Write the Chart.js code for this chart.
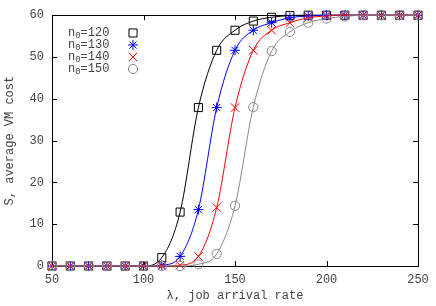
<!DOCTYPE html>
<html>
<head>
<meta charset="utf-8">
<script src="https://cdn.jsdelivr.net/npm/chart.js@4"></script>
<style>
html, body { margin: 0; padding: 0; background: #fff; }
</style>
</head>
<body>
<canvas id="c" width="436" height="306"></canvas>
<script>
var lambdas = [50, 60, 70, 80, 90, 100, 110, 120, 130, 140, 150, 160, 170, 180, 190, 200, 210, 220, 230, 240, 250];
var s120 = [0, 0, 0, 0, 0, 0, 2.0, 12.9, 37.9, 51.6, 56.4, 58.6, 59.5, 59.9, 60, 60, 60, 60, 60, 60, 60];
var s130 = [0, 0, 0, 0, 0, 0, 0.2, 2.3, 13.5, 37.9, 51.6, 56.4, 58.2, 59.4, 59.8, 60, 60, 60, 60, 60, 60];
var s140 = [0, 0, 0, 0, 0, 0, 0, 0.2, 2.3, 14.0, 37.9, 51.6, 56.4, 58.2, 59.4, 59.8, 60, 60, 60, 60, 60];
var s150 = [0, 0, 0, 0, 0, 0, 0, 0, 0.4, 2.9, 14.4, 38.0, 51.4, 56.0, 58.2, 59.2, 59.7, 60, 60, 60, 60];
var seriesNames = ['120', '130', '140', '150'];
var xTicks = [50, 100, 150, 200, 250];
var yTicks = [0, 10, 20, 30, 40, 50, 60];

var FONT = '"Liberation Mono", "DejaVu Sans Mono", monospace';
var TEXT = '#444';
var colors = ['#000000', '#0000ff', '#ff0000', '#888888'];
var styles = ['rect', 'star', 'crossRot', 'circle'];
var radii = [5.7, 5, 6, 4.6];

function pts(arr) {
  return arr.map(function (v, i) { return { x: lambdas[i], y: v }; });
}

var all = [s120, s130, s140, s150];
var datasets = all.map(function (arr, i) {
  return {
    label: 'n0=' + seriesNames[i],
    data: pts(arr),
    borderColor: colors[i],
    pointBorderColor: colors[i],
    backgroundColor: 'rgba(0,0,0,0)',
    pointBackgroundColor: 'rgba(0,0,0,0)',
    borderWidth: 1,
    pointBorderWidth: 1,
    pointStyle: styles[i],
    pointRadius: radii[i],
    cubicInterpolationMode: 'monotone',
    clip: false,
    order: 4 - i
  };
});

// legend markers, drawn the same way as the chart's point styles
function drawMarker(ctx, style, r, x, y) {
  ctx.beginPath();
  if (style === 'rect') {
    var s = r * Math.SQRT1_2;
    ctx.rect(x - s, y - s, 2 * s, 2 * s);
  } else if (style === 'circle') {
    ctx.arc(x, y, r, 0, Math.PI * 2);
  } else if (style === 'crossRot') {
    var d = r * Math.SQRT1_2;
    ctx.moveTo(x - d, y - d); ctx.lineTo(x + d, y + d);
    ctx.moveTo(x - d, y + d); ctx.lineTo(x + d, y - d);
  } else if (style === 'star') {
    var d2 = r * Math.SQRT1_2;
    ctx.moveTo(x - r, y); ctx.lineTo(x + r, y);
    ctx.moveTo(x, y - r); ctx.lineTo(x, y + r);
    ctx.moveTo(x - d2, y - d2); ctx.lineTo(x + d2, y + d2);
    ctx.moveTo(x - d2, y + d2); ctx.lineTo(x + d2, y - d2);
  }
  ctx.stroke();
}

var framePlugin = {
  id: 'frame',
  beforeDatasetsDraw: function (chart) {
    var ctx = chart.ctx, a = chart.chartArea;
    var xs = chart.scales.x, ys = chart.scales.y;
    ctx.save();
    ctx.strokeStyle = '#000';
    ctx.lineWidth = 1;
    ctx.strokeRect(Math.round(a.left) + 0.5, Math.round(a.top) + 0.5,
      Math.round(a.right - a.left), Math.round(a.bottom - a.top));
    // inward ticks on all four sides
    ctx.beginPath();
    xTicks.forEach(function (v) {
      var px = Math.round(xs.getPixelForValue(v)) + 0.5;
      ctx.moveTo(px, a.bottom); ctx.lineTo(px, a.bottom - 5);
      ctx.moveTo(px, a.top); ctx.lineTo(px, a.top + 5);
    });
    yTicks.forEach(function (v) {
      var py = Math.round(ys.getPixelForValue(v)) + 0.5;
      ctx.moveTo(a.left, py); ctx.lineTo(a.left + 5, py);
      ctx.moveTo(a.right, py); ctx.lineTo(a.right - 5, py);
    });
    ctx.stroke();
    ctx.restore();
  },
  afterDraw: function (chart) {
    var ctx = chart.ctx;
    ctx.save();
    ctx.textBaseline = 'middle';
    ctx.fillStyle = TEXT;
    seriesNames.forEach(function (name, i) {
      var y = 33 + i * 12;
      var x = 68;
      ctx.font = '12px ' + FONT;
      ctx.fillText('n', x, y);
      x += ctx.measureText('n').width;
      ctx.font = '9px ' + FONT;
      ctx.fillText('0', x, y + 3);
      x += ctx.measureText('0').width;
      ctx.font = '12px ' + FONT;
      ctx.fillText('=' + name, x, y);
      ctx.strokeStyle = colors[i];
      ctx.lineWidth = 1;
      drawMarker(ctx, styles[i], radii[i], 133, y);
    });
    ctx.restore();
  }
};

new Chart(document.getElementById('c'), {
  type: 'line',
  data: { datasets: datasets },
  options: {
    responsive: false,
    animation: false,
    layout: { padding: { left: 0, right: 18, top: 11, bottom: 0 } },
    plugins: { legend: { display: false }, tooltip: { enabled: false } },
    scales: {
      x: {
        type: 'linear',
        min: 50,
        max: 250,
        afterFit: function (s) { s.height = 40; },
        afterBuildTicks: function (s) { s.ticks = xTicks.map(function (v) { return { value: v }; }); },
        grid: { display: false, drawTicks: false },
        border: { display: false },
        ticks: { padding: 7, color: TEXT, font: { family: FONT, size: 12 }, maxRotation: 0 },
        title: { display: true, text: 'λ, job arrival rate', color: TEXT, font: { family: FONT, size: 12 }, padding: { top: 0, bottom: 3 } }
      },
      y: {
        min: 0,
        max: 60,
        afterFit: function (s) { s.width = 52; },
        afterBuildTicks: function (s) { s.ticks = yTicks.map(function (v) { return { value: v }; }); },
        grid: { display: false, drawTicks: false },
        border: { display: false },
        ticks: { padding: 8, color: TEXT, font: { family: FONT, size: 12 } },
        title: { display: true, text: 'S, average VM cost', color: TEXT, font: { family: FONT, size: 12 }, padding: { top: 3, bottom: 0 } }
      }
    }
  },
  plugins: [framePlugin]
});
</script>
</body>
</html>
